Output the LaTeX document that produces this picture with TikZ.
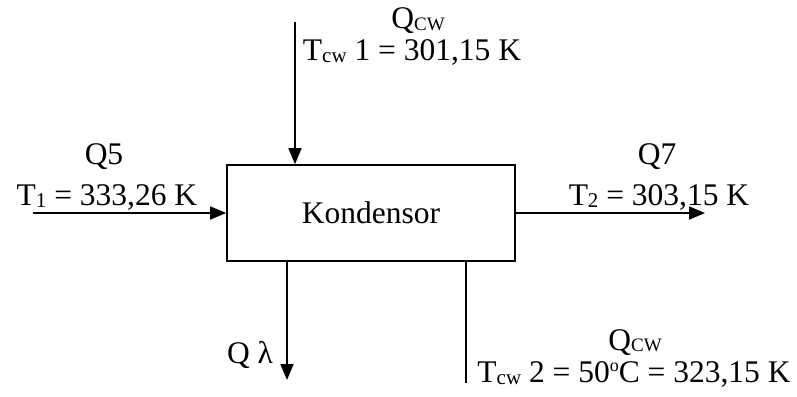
\documentclass[tikz,border=0pt]{standalone}
\usepackage{fontspec}
\setmainfont{Liberation Serif}
\usetikzlibrary{arrows.meta}
\newcommand{\lowtxt}[1]{\raisebox{-2.5pt}{\fontsize{21}{21}\selectfont #1}}
\newcommand{\captxt}[1]{\raisebox{-1.5pt}{\fontsize{19}{19}\selectfont #1}}
\newcommand{\degtxt}{\raisebox{11pt}{\fontsize{18}{18}\selectfont o}}
\begin{document}
\begin{tikzpicture}[
  x=1pt, y=-1pt,
  every node/.style={font=\fontsize{31.5}{36}\selectfont, inner sep=0pt},
  lbl/.style={anchor=base},
  unit/.style={draw, line width=1.7pt, minimum width=288pt, minimum height=96pt},
  arrow/.style={-{Triangle[length=16pt, width=13pt]}, line width=1.7pt},
  plain/.style={line width=1.7pt}
]
\useasboundingbox (0,0) rectangle (797,396);
\node[unit] (kond) at (371,213) {Kondensor};
\coordinate (q5in) at (33,213);
\coordinate (cwin) at (295,22);
\coordinate (q7out) at (705,213);
\coordinate (qlam) at (287,380);
\coordinate (cwout) at (466,383);
\node[lbl] (q5) at (104,164) {Q5};
\node[lbl] (t1) at (107,205) {T\lowtxt{1} = 333,26 K};
\node[lbl] (q7) at (657,164) {Q7};
\node[lbl] (t2) at (659,205) {T\lowtxt{2} = 303,15 K};
\node[lbl] (qcw1) at (418,29) {Q\captxt{CW}};
\node[lbl] (tcw1) at (412,60) {T\lowtxt{cw} 1 = 301,15 K};
\node[lbl] (ql) at (250,363) {Q λ};
\node[lbl] (qcw2) at (635,350) {Q\captxt{CW}};
\node[lbl] (tcw2) at (634,382) {T\lowtxt{cw} 2 = 50\degtxt C = 323,15 K};
\draw[arrow] (q5in) -- (kond.west);
\draw[arrow] (cwin) -- (cwin |- kond.north);
\draw[arrow] (kond.east) -- (q7out);
\draw[arrow] (qlam |- kond.south) -- (qlam);
\draw[plain] (cwout |- kond.south) -- (cwout);
\end{tikzpicture}
\end{document}
